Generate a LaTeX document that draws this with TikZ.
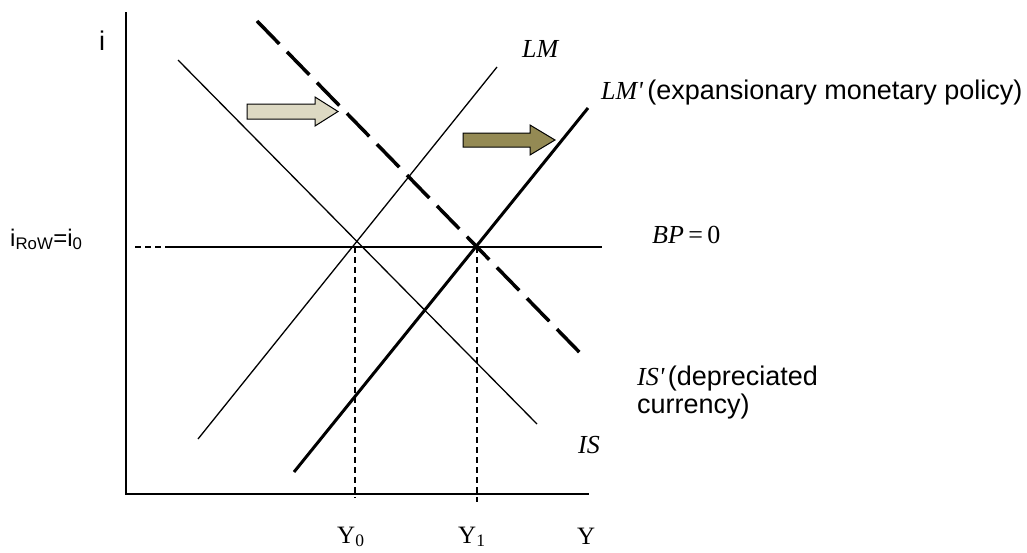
\documentclass[tikz,border=0pt]{standalone}
\usepackage{fontspec}
\setmainfont{Liberation Sans}
\newfontfamily\tms{Liberation Serif}
\definecolor{lighttan}{HTML}{DDD9C3}
\definecolor{olive}{HTML}{948A54}
\begin{document}
\begin{tikzpicture}[x=1pt,y=-1pt,
  axisline/.style={line width=2pt},
  curve/.style={line width=1.3pt},
  shifted/.style={line width=3pt},
  shifteddash/.style={line width=3.5pt, dash pattern=on 32pt off 11pt},
  guide/.style={line width=1.3pt, dash pattern=on 6pt off 4pt},
  shiftarrow/.style={draw=black, line width=1pt, line join=miter},
  lbl/.style={inner sep=0pt, anchor=base west},
  sanslbl/.style={lbl, font=\fontsize{27}{30}\selectfont},
  seriflbl/.style={lbl, font=\fontsize{26}{30}\selectfont\tms\itshape}]
\useasboundingbox (0,0) rectangle (1027,552);
% axes
\coordinate (ytop) at (126,12);
\coordinate (origin) at (126,494);
\coordinate (xend) at (589,494);
\draw[axisline] (ytop) -- (origin) -- (xend);
% BP = 0 line
\coordinate (bpdash) at (135,247);
\coordinate (bpstart) at (170,247);
\coordinate (bpend) at (602,247);
\draw[guide] (bpdash) -- (bpstart);
\draw[curve] (bpstart) -- (bpend);
% IS and IS'
\coordinate (isA) at (178,60);
\coordinate (isB) at (537,424);
\draw[curve] (isA) -- (isB);
\coordinate (ispA) at (257,21);
\coordinate (ispB) at (586,359);
\draw[shifteddash] (ispA) -- (ispB);
% LM and LM'
\coordinate (lmA) at (198,439);
\coordinate (lmB) at (497,67);
\draw[curve] (lmA) -- (lmB);
\coordinate (lmpA) at (294,472);
\coordinate (lmpB) at (588,108);
\draw[shifted] (lmpA) -- (lmpB);
% guides to Y0 and Y1
\coordinate (e0) at (355,247);
\coordinate (e0b) at (355,498);
\coordinate (e1) at (477,247);
\coordinate (e1b) at (477,502);
\draw[guide] (e0) -- (e0b);
\draw[guide] (e1) -- (e1b);
% shift arrows
\draw[shiftarrow, fill=lighttan] (247,104) -- (315,104) -- (315,97) -- (338,111.5) -- (315,126) -- (315,119) -- (247,119) -- cycle;
\draw[shiftarrow, fill=olive] (463,133) -- (530,133) -- (530,125) -- (555,140) -- (530,155) -- (530,147) -- (463,147) -- cycle;
% labels
\node[sanslbl] (ilab) at (99,50) {i};
\node[lbl, font=\fontsize{24}{28}\selectfont] (irow) at (10,246) {i\textsubscript{RoW}=i\textsubscript{0}};
\node[seriflbl] (lmlab) at (522,57) {LM};
\node[seriflbl] (lmplab) at (601,99) {LM\char"0027};
\node[sanslbl] (lmptext) at (lmplab.base east) [xshift=4pt] {(expansionary monetary policy)};
\node[lbl, font=\fontsize{26}{30}\selectfont\tms] (bplab) at (652,243) {\itshape BP\upshape\,=\,0};
\node[seriflbl] (isplab) at (637,385) {IS\char"0027};
\node[sanslbl] (isptext) at (isplab.base east) [xshift=3pt] {(depreciated};
\node[sanslbl] (isptext2) at (637,413) {currency)};
\node[seriflbl] (islab) at (578,453) {IS};
\node[lbl, font=\fontsize{25}{30}\selectfont\tms] (y0lab) at (337,543) {Y\textsubscript{0}};
\node[lbl, font=\fontsize{25}{30}\selectfont\tms] (y1lab) at (458,543) {Y\textsubscript{1}};
\node[lbl, font=\fontsize{25}{30}\selectfont\tms] (ylab) at (577,544) {Y};
\end{tikzpicture}
\end{document}
